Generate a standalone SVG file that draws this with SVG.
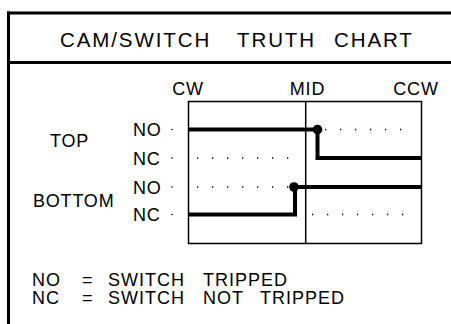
<svg xmlns="http://www.w3.org/2000/svg" width="451" height="324" viewBox="0 0 451 324">
<style>
text{font-family:"Liberation Sans",Arial,sans-serif;fill:#000}
.title{font-size:20.5px;letter-spacing:1.9px}
.lbl{font-size:18px;letter-spacing:0.8px}
.leg{font-size:18px;letter-spacing:1px}
.frame{stroke:#000;stroke-width:3;fill:none}
.box{stroke:#000;stroke-width:1.5;fill:none}
.thick{stroke:#000;stroke-width:4;fill:none;stroke-linejoin:miter}
.dots{stroke:#000;stroke-width:1.3;stroke-dasharray:1.3 13.7;fill:none}
</style>
<rect width="451" height="324" fill="#fff"/>
<g id="frame">
<line class="frame" x1="8.5" y1="11.5" x2="8.5" y2="324"/>
<line class="frame" x1="7" y1="13" x2="451" y2="13"/>
<line class="frame" x1="7" y1="62.5" x2="451" y2="62.5"/>
</g>
<g id="title">
<text class="title" y="46.5"><tspan x="60">CAM/SWITCH</tspan><tspan x="237">TRUTH</tspan><tspan x="334">CHART</tspan></text>
</g>
<g id="axis-labels">
<text class="lbl" x="188" y="95" text-anchor="middle">CW</text>
<text class="lbl" x="307.5" y="95" text-anchor="middle">MID</text>
<text class="lbl" x="416" y="95" text-anchor="middle">CCW</text>
</g>
<g id="row-labels">
<text class="lbl" x="50" y="147">TOP</text>
<text class="lbl" x="33" y="207">BOTTOM</text>
<text class="lbl" x="133" y="136">NO</text>
<text class="lbl" x="133" y="165">NC</text>
<text class="lbl" x="133" y="193.5">NO</text>
<text class="lbl" x="133" y="221">NC</text>
<circle cx="172" cy="129.5" r="0.8"/>
<circle cx="172" cy="158" r="0.8"/>
<circle cx="172" cy="187" r="0.8"/>
<circle cx="172" cy="214.5" r="0.8"/>
</g>
<g id="chart">
<rect class="box" x="188.5" y="101.5" width="233" height="142"/>
<line class="box" x1="305.7" y1="101.5" x2="305.7" y2="243.5"/>
</g>
<g id="connectors">
<path class="dots" d="M325 129.5H412"/>
<path class="dots" d="M197 158H300"/>
<path class="dots" d="M197 187H290"/>
<path class="dots" d="M312 214.5H412"/>
<path class="thick" d="M188.5 129.5H317.5V158H421.5"/>
<circle cx="317.5" cy="129.5" r="4.8"/>
<path class="thick" d="M188.5 214.5H295V187H421.5"/>
<circle cx="294" cy="187" r="4.8"/>
</g>
<g id="legend">
<text class="leg" y="285.5"><tspan x="32">NO</tspan><tspan x="82">=</tspan><tspan x="108">SWITCH</tspan><tspan x="203">TRIPPED</tspan></text>
<text class="leg" y="303.5"><tspan x="32">NC</tspan><tspan x="82">=</tspan><tspan x="108">SWITCH</tspan><tspan x="203">NOT</tspan><tspan x="260">TRIPPED</tspan></text>
</g>
</svg>
